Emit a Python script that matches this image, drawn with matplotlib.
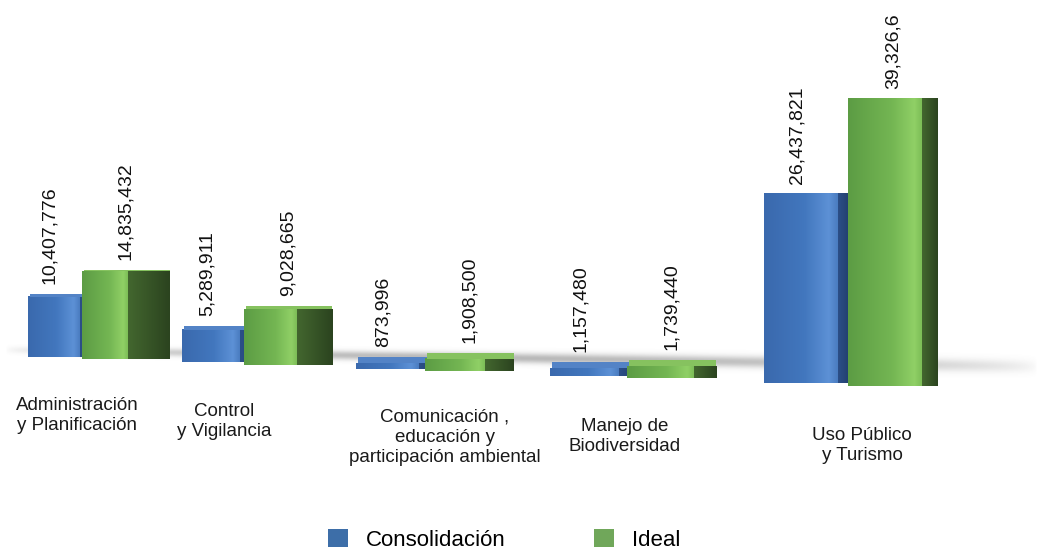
import matplotlib.pyplot as plt
import numpy as np
from matplotlib.colors import LinearSegmentedColormap
from matplotlib.patches import Patch

plt.rcParams['font.family'] = ['Liberation Sans', 'DejaVu Sans']

# datos
categorias = ['Administración\ny Planificación', 'Control\ny Vigilancia',
              'Comunicación ,\neducación y\nparticipación ambiental',
              'Manejo de\nBiodiversidad', 'Uso Público\ny Turismo']
series = ['Consolidación', 'Ideal']
consolidacion = [10407776, 5289911, 873996, 1157480, 26437821]
ideal = [14835432, 9028665, 1908500, 1739440, 39326600]
etiquetas_consolidacion = ['10,407,776', '5,289,911', '873,996', '1,157,480', '26,437,821']
etiquetas_ideal = ['14,835,432', '9,028,665', '1,908,500', '1,739,440', '39,326,6']

# ---- layout: perspectiva "falsa" como en el original 3D ----
W, H = 1038, 553
PX_M = 6.5  # px por millon (referencia)


def px2y(py):
    return (357 - py) / PX_M


def y2px(y):
    return 357 - y * PX_M


def base(x):
    return px2y(357 + 0.035 * (x - 54))


def escala(x):
    return (5.8 + 0.00181 * (x - 54)) / PX_M


i = np.arange(len(categorias))
L = 28 + 154 * i + 10 * i * (i - 1)
wb = 52 + 5.5 * i
gap = 2 + 2 * i
wg = 46 + 7 * i
d = 42 - 6.5 * i
xg = L + wb + gap

fig = plt.figure(figsize=(W / 100, H / 100), dpi=100)
ax = fig.add_axes([0, 0, 1, 1])
ax.set_axis_off()


def cmap(cols):
    return LinearSegmentedColormap.from_list('c', cols)


frente_azul = cmap([(0, '#3a69ad'), (0.55, '#4277be'), (0.88, '#5d91d6'), (1, '#4a7cc0')])
lado_azul = cmap(['#2c4f88', '#1e3863'])
tapa_azul = '#5383c6'
frente_verde = cmap([(0, '#5c9c44'), (0.6, '#74b653'), (0.9, '#90d066'), (1, '#7cbd57')])
lado_verde = cmap(['#43672f', '#2b431f'])
tapa_verde = '#86c25f'

# sombra difusa en el suelo
gx = np.linspace(5, 1038, 600)
gpy = np.linspace(320, 400, 160)
XX, PY = np.meshgrid(gx, gpy)
cen = 350 + 0.0163 * (XX - 20)
sig = 3.5 + 0.003 * (XX - 20)
env = np.clip(np.sin(np.pi * (XX - 5) / 1033), 0, 1) ** 0.5
alpha = 0.5 * env * np.exp(-((PY - cen) / sig) ** 2)
rgba = np.zeros(XX.shape + (4,))
rgba[..., :3] = 0.45
rgba[..., 3] = alpha
ax.imshow(rgba, extent=[gx[0], gx[-1], px2y(gpy[-1]), px2y(gpy[0])],
          origin='upper', aspect='auto', interpolation='bilinear', zorder=1)


def dibujar(xl, w, vals, frente, lado, tapa, z):
    cx = xl + w / 2
    b = base(cx)
    h = np.array(vals) / 1e6 * escala(cx)
    h = np.maximum(h, 0.8)
    lados = ax.bar(xl + w, h, width=d, bottom=b, align='edge', color='k', lw=0, zorder=z)
    frentes = ax.bar(xl, h, width=w, bottom=b, align='edge', color='k', lw=0, zorder=z + 1)
    for bars, cm, zz in ((lados, lado, z), (frentes, frente, z + 1)):
        for p in bars:
            x0, y0 = p.get_x(), p.get_y()
            ax.imshow(np.linspace(0, 1, 256)[None, :], cmap=cm, aspect='auto',
                      extent=[x0, x0 + p.get_width(), y0, y0 + p.get_height()],
                      interpolation='bicubic', zorder=zz + 0.5)
    # tapa superior visible solo en barras bajas (vista desde arriba)
    top = b + h
    t = np.clip((y2px(top) - 250) / 20, 0, 6) / PX_M
    ax.bar(xl + 2, t, width=w + d - 2, bottom=top, align='edge', color=tapa,
           lw=0, zorder=z + 2)
    return top + t


top_b = dibujar(L, wb, consolidacion, frente_azul, lado_azul, tapa_azul, 2)
top_g = dibujar(xg, wg, ideal, frente_verde, lado_verde, tapa_verde, 6)

off = 10 / PX_M
for k in range(len(categorias)):
    ax.text(L[k] + wb[k] / 2 - 4, top_b[k] + off, etiquetas_consolidacion[k], rotation=90,
            ha='center', va='bottom', fontsize=14, color='#111111', zorder=10)
    ax.text(xg[k] + wg[k] / 2 + d[k] / 2, top_g[k] + off, etiquetas_ideal[k], rotation=90,
            ha='center', va='bottom', fontsize=14, color='#111111', zorder=10)

# etiquetas de categoria
label_x = [77, 224, 445, 625, 862]
label_top = [397, 403, 409, 418, 427]
for k, c in enumerate(categorias):
    ax.text(label_x[k], px2y(label_top[k]), c, ha='center', va='top',
            fontsize=13.5, color='#1a1a1a', linespacing=1.22)

ax.set_xlim(0, W)
ax.set_ylim(px2y(H), px2y(0))

handles = [Patch(facecolor='#3d6ea8', edgecolor='none'),
           Patch(facecolor='#70a75a', edgecolor='none')]
fig.legend(handles, series, loc='upper left', bbox_to_anchor=(328 / W, 1 - 529 / H),
           ncol=2, frameon=False, fontsize=16, handlelength=0.9, handleheight=0.9,
           handletextpad=0.8, columnspacing=4.0, borderpad=0, borderaxespad=0)

fig.savefig('out.png', dpi=100)
